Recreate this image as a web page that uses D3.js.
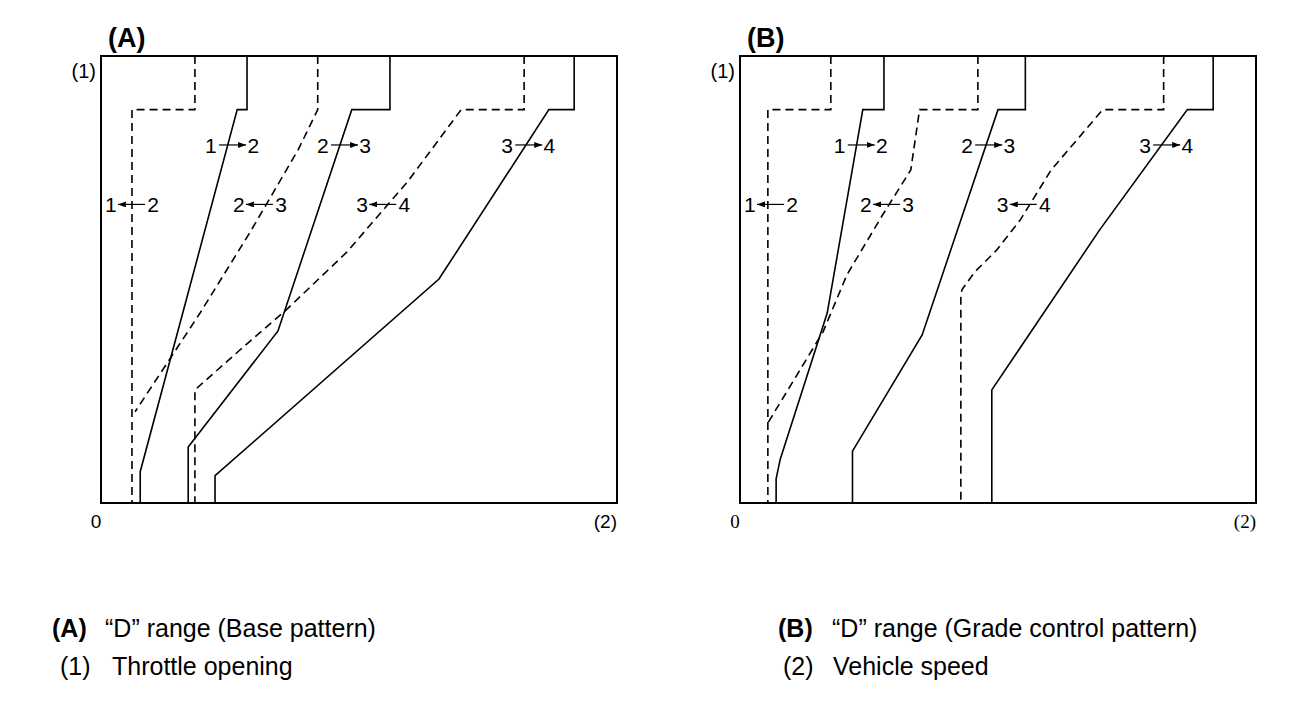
<!DOCTYPE html>
<html>
<head>
<meta charset="utf-8">
<script src="https://cdn.jsdelivr.net/npm/d3@7/dist/d3.min.js"></script>
<style>
  body { margin: 0; background: #fff; }
  text { font-family: Arial, "Liberation Sans", Helvetica, sans-serif; fill: #000; }
</style>
</head>
<body>
<div id="chart"></div>
<script>
// points are [vehicle speed %, throttle opening %]
// (A) base pattern
const baseUp12   = [[28.3,100],[28.3,88],[26.4,88],[7.6,7],[7.6,0]];
const baseUp23   = [[56,100],[56,88],[48.6,88],[34.3,38.5],[16.9,12.5],[16.9,0]];
const baseUp34   = [[91.7,100],[91.7,88],[86.8,88],[65.5,50.1],[22.1,6.1],[22.1,0]];
const baseDown12 = [[18.2,100],[18.2,88],[6.0,88],[6.0,0]];
const baseDown23 = [[42,100],[42,88],[38.2,79],[28.9,60.6],[19.2,42.5],[6.6,20.4]];
const baseDown34 = [[82,100],[82,88],[69.8,88],[59.5,72],[47.7,56.2],[35.9,43.2],[26.7,34],[18.2,25.3],[18.2,0]];

// (B) grade control pattern
const gradeUp12   = [[27.9,100],[27.9,88],[23.8,88],[16.9,42.5],[7.8,9.8],[7.0,5.4],[7.0,0]];
const gradeUp23   = [[55.3,100],[55.3,88],[50,88],[35.3,37.6],[21.8,11.6],[21.8,0]];
const gradeUp34   = [[91.7,100],[91.7,88],[86.7,88],[69.7,61.1],[48.8,25.3],[48.8,0]];
const gradeDown12 = [[17.6,100],[17.6,88],[5.4,88],[5.4,0]];
const gradeDown23 = [[46.1,100],[46.1,88],[34.8,88],[33.1,74.5],[27.5,64.2],[20.7,51],[16.1,38.3],[5.4,17.9]];
const gradeDown34 = [[82.1,100],[82.1,88],[70.3,88],[60.3,74.5],[54.3,63.3],[49.6,56.4],[45.5,51.7],[43,47.7],[42.8,46],[42.8,0]];

// shift labels: gears, direction, centre position
const baseLabels = [
  {a:"1", b:"2", up:true,  x:25.4, y:80.1},
  {a:"2", b:"3", up:true,  x:47.1, y:80.1},
  {a:"3", b:"4", up:true,  x:82.8, y:80.1},
  {a:"1", b:"2", up:false, x:6.0,  y:66.8},
  {a:"2", b:"3", up:false, x:30.8, y:66.8},
  {a:"3", b:"4", up:false, x:54.7, y:66.8}
];
const gradeLabels = [
  {a:"1", b:"2", up:true,  x:23.4, y:80.1},
  {a:"2", b:"3", up:true,  x:48.1, y:80.1},
  {a:"3", b:"4", up:true,  x:82.6, y:80.1},
  {a:"1", b:"2", up:false, x:6.0,  y:66.8},
  {a:"2", b:"3", up:false, x:28.5, y:66.8},
  {a:"3", b:"4", up:false, x:55.0, y:66.8}
];

const captions = [
  {key:"(A)", text:"\u201cD\u201d range (Base pattern)", x:52, y:637, dx:53},
  {key:"(1)", text:"Throttle opening", x:60, y:675, dx:52, plain:true},
  {key:"(B)", text:"\u201cD\u201d range (Grade control pattern)", x:778, y:637, dx:54},
  {key:"(2)", text:"Vehicle speed", x:783, y:675, dx:50, plain:true}
];

const width = 1312, height = 708;
const pw = 516, ph = 447, plotTop = 56;

const svg = d3.select("#chart").append("svg")
  .attr("width", width)
  .attr("height", height);

svg.append("defs").append("marker")
  .attr("id", "head")
  .attr("markerUnits", "userSpaceOnUse")
  .attr("markerWidth", 9).attr("markerHeight", 7)
  .attr("refX", 8).attr("refY", 3)
  .attr("orient", "auto")
  .append("path")
  .attr("d", "M0,0 L8,3 L0,6 Z")
  .attr("fill", "#000");

function panel(left, up, down, labels, title, serif) {
  const g = svg.append("g").attr("transform", `translate(${left},${plotTop})`);
  const x = d3.scaleLinear().domain([0, 100]).range([0, pw]);
  const y = d3.scaleLinear().domain([0, 100]).range([ph, 0]);
  const line = d3.line().x(d => x(d[0])).y(d => y(d[1]));

  g.append("rect")
    .attr("width", pw).attr("height", ph)
    .attr("fill", "none").attr("stroke", "#000").attr("stroke-width", 2);

  g.selectAll(".up").data(up).enter().append("path")
    .attr("class", "up")
    .attr("d", line)
    .attr("fill", "none").attr("stroke", "#000").attr("stroke-width", 1.6);

  g.selectAll(".down").data(down).enter().append("path")
    .attr("class", "down")
    .attr("d", line)
    .attr("fill", "none").attr("stroke", "#000").attr("stroke-width", 1.6)
    .attr("stroke-dasharray", "8,5");

  const lab = g.selectAll(".lab").data(labels).enter().append("g")
    .attr("class", "lab")
    .attr("transform", d => `translate(${x(d.x)},${y(d.y)})`);
  lab.append("text").attr("x", -27).attr("dy", "0.36em")
    .style("font-size", "21px").text(d => d.a);
  lab.append("text").attr("x", 27).attr("dy", "0.36em")
    .attr("text-anchor", "end").style("font-size", "21px").text(d => d.b);
  lab.append("line")
    .attr("x1", d => d.up ? -13 : 13).attr("x2", d => d.up ? 14 : -14)
    .attr("y1", 0).attr("y2", 0)
    .attr("stroke", "#000").attr("stroke-width", 1.2)
    .attr("marker-end", "url(#head)");

  g.append("text").attr("x", 7).attr("y", -9)
    .style("font-size", "27px").style("font-weight", "bold").text(title);

  g.append("text").attr("x", x(0) - 5).attr("y", y(100) + 22)
    .attr("text-anchor", "end").style("font-size", "20px").text("(1)");

  const ax = serif ? "'Liberation Serif', 'Times New Roman', serif" : null;
  g.append("text").attr("x", x(0) - 5).attr("y", ph + 25)
    .attr("text-anchor", "middle").style("font-size", "19px")
    .style("font-family", ax).text("0");
  g.append("text").attr("x", x(100)).attr("y", ph + 25)
    .attr("text-anchor", "end").style("font-size", "19px")
    .style("font-family", ax).text("(2)");
}

panel(101, [baseUp12, baseUp23, baseUp34], [baseDown12, baseDown23, baseDown34], baseLabels, "(A)", false);
panel(740, [gradeUp12, gradeUp23, gradeUp34], [gradeDown12, gradeDown23, gradeDown34], gradeLabels, "(B)", true);

const cap = svg.selectAll(".cap").data(captions).enter().append("g")
  .attr("class", "cap")
  .attr("transform", d => `translate(${d.x},${d.y})`);
cap.append("text")
  .style("font-size", "25px").style("font-weight", d => d.plain ? null : "bold")
  .text(d => d.key);
cap.append("text").attr("x", d => d.dx)
  .style("font-size", "25px").text(d => d.text);
</script>
</body>
</html>
